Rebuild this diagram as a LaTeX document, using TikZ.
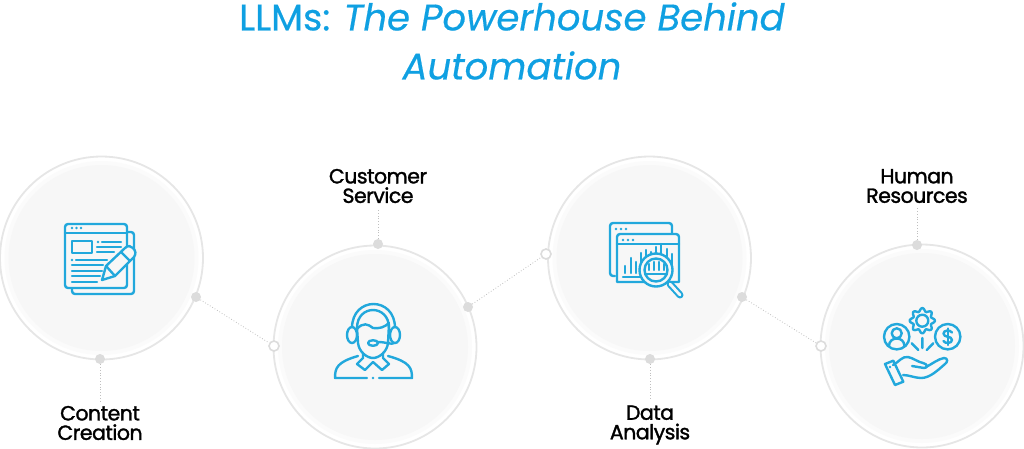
\documentclass[tikz,border=0pt]{standalone}
\usepackage{fontspec}
\setmainfont{Poppins}
\newfontfamily\titlefont[FakeBold=0.45]{Poppins}
\newfontfamily\labelfont[FakeBold=1.5,LetterSpace=-2.5]{Poppins}
\definecolor{skyblue}{HTML}{0FA0E2}
\definecolor{iconblue}{HTML}{22A8DC}
\definecolor{ringgray}{HTML}{E6E6E6}
\definecolor{dotgray}{HTML}{DCDCDC}
\definecolor{softgray}{HTML}{F7F7F7}
\definecolor{softedge}{HTML}{FBFBFB}
\tikzset{
	bubble/.style={circle,draw=ringgray,fill=white,line width=1.8pt,minimum size=203pt,inner sep=0pt},
	fulldot/.style={circle,fill=dotgray,minimum size=10pt,inner sep=0pt},
	holedot/.style={circle,draw=dotgray,fill=white,line width=1.6pt,minimum size=10pt,inner sep=0pt},
	link/.style={draw=black!25,line width=.8pt,dotted},
	caption/.style={align=center,inner sep=0pt,text=black,font=\labelfont\fontsize{20.5}{19.5}\selectfont},
	icon/.style={draw=iconblue,line width=2.4pt,line cap=round,line join=round}
}
\begin{document}
\begin{tikzpicture}[x=1pt,y=-1pt]
	\useasboundingbox (0,0) rectangle (1024,448);
	% title
	\node[align=center,inner sep=0pt,text=skyblue,font=\titlefont\fontsize{37}{49}\selectfont] (title) at (512,41) {LLMs: \textit{The Powerhouse Behind}\\\textit{Automation}};
	% circles
	\node[bubble] (content) at (101.5,258) {};
	\node[bubble] (service) at (375,347) {};
	\node[bubble] (analysis) at (649.5,258) {};
	\node[bubble] (resources) at (922,346) {};
	\foreach \bub in {content,service,analysis,resources}{
		\fill[softedge] (\bub) circle (97);
		\fill[softgray] (\bub) circle (93);
	}
	% dots on the rings
	\node[fulldot] (contentbottom) at (100,359) {};
	\node[fulldot] (contentright) at (196,297) {};
	\node[holedot] (serviceleft) at (274,346) {};
	\node[fulldot] (servicetop) at (378,244) {};
	\node[fulldot] (serviceright) at (468,307) {};
	\node[holedot] (analysisleft) at (546,254) {};
	\node[fulldot] (analysisbottom) at (650,359) {};
	\node[fulldot] (analysisright) at (742,297) {};
	\node[holedot] (resourcesleft) at (821,346) {};
	\node[fulldot] (resourcestop) at (917,245) {};
	% labels
	\node[caption] (contentlabel) at (100,423) {Content\\Creation};
	\node[caption] (servicelabel) at (378,186) {Customer\\Service};
	\node[caption] (analysislabel) at (650,425) {Data\\Analysis};
	\node[caption] (resourceslabel) at (917,186) {Human\\Resources};
	% links
	\draw[link] (contentright) -- (serviceleft);
	\draw[link] (serviceright) -- (analysisleft);
	\draw[link] (analysisright) -- (resourcesleft);
	\draw[link,shorten >=5pt] (contentbottom) -- (contentlabel);
	\draw[link,shorten >=5pt] (servicetop) -- (servicelabel);
	\draw[link,shorten >=5pt] (analysisbottom) -- (analysislabel);
	\draw[link,shorten >=5pt] (resourcestop) -- (resourceslabel);
	% content icon
	\draw[icon] (127,232) -- (131,232) arc (-90:0:3) -- (134,291) arc (0:90:3) -- (75,294) arc (90:180:3) -- (72,288);
	\draw[icon,fill=softgray,rounded corners=3pt] (65,224) rectangle (127,288);
	\draw[icon] (65,233) -- (127,233) (72,241) rectangle (92,253);
	\draw[icon] (102,242) -- (121,242) (97,247) -- (121,247) (97,252) -- (114,252);
	\draw[icon] (76,260) -- (107,260) (72,265) -- (103,265) (72,271) -- (102,271) (72,276) -- (100,276) (72,282) -- (97,282);
	\foreach \px/\py in {72/228,76.5/228,81/228,98/242,72/260}
		\fill[iconblue] (\px,\py) circle (1.4pt);
	\draw[icon,fill=softgray] (102,280) -- (106,266) -- (125,248) .. controls (128,245) and (131,246) .. (133,248) .. controls (136,251) and (136,254) .. (134,257) -- (115,276) -- cycle;
	\draw[icon] (106,266) -- (115,276) (121,252) -- (130,261);
	% service icon
	\draw[icon] (352,328) .. controls (352,296) and (395,296) .. (395,328);
	\draw[icon] (357,328) .. controls (357,304) and (389,304) .. (389,328);
	\draw[icon,fill=softgray] (352,335) ellipse (5 and 8) (395,335) ellipse (5 and 8);
	\draw[icon] (357,328) -- (358,343) .. controls (359,352) and (367,358) .. (373,358) .. controls (379,358) and (387,352) .. (388,343) -- (389,324);
	\draw[icon] (357,329) .. controls (363,322) and (368,324) .. (373,328) .. controls (379,329) and (385,327) .. (389,323);
	\draw[icon] (394,343) .. controls (392,345) and (386,342) .. (378,342);
	\draw[icon] (373,343) ellipse (5 and 2.8);
	\draw[icon] (363,353) -- (363,358) -- (357,364) -- (365,370) -- (373,362) -- (382,370) -- (389,364) -- (383,358) -- (383,353);
	\draw[icon] (367,378) -- (335,378) .. controls (335,368) and (337,362) .. (358,356);
	\draw[icon] (379,378) -- (412,378) .. controls (412,368) and (410,362) .. (388,356);
	\fill[iconblue] (373,378) circle (1.4pt);
	% analysis icon
	\draw[icon] (615,276) -- (613,276) arc (90:180:3) -- (610,226) arc (180:270:3) -- (669,223) arc (-90:0:3) -- (672,233);
	\draw[icon,fill=softgray] (617,282) -- (617,237) arc (180:270:3) -- (676,234) arc (-90:0:3) -- (679,282) -- cycle;
	\draw[icon] (617,244) -- (679,244);
	\foreach \px/\py in {625/266,630.7/258,635.7/262,640.7/253,646/250,651/252,656/247,661/244,666.7/249,671.7/254}
		\draw[icon] (\px,\py) -- (\px,273);
	\draw[icon] (623,277) -- (640,277);
	\foreach \px/\py in {616/229,621/229,626/229,623/240,628/240,633/240}
		\fill[iconblue] (\px,\py) circle (1.4pt);
	\draw[icon,fill=softgray] (656,270) circle (16.5);
	\draw[icon] (656,270) circle (11.5);
	\draw[icon] (649,264) -- (649,270) (654,262) -- (654,270) (659,262) -- (659,270) (664,264) -- (664,270) (646,274) -- (667,274);
	\draw[icon,line width=7pt] (670,284) -- (680,295);
	\draw[softgray,line width=2.8pt,line cap=round] (670,284) -- (680,295);
	% resources icon
	\begin{scope}[shift={(922.3,320.7)}]
		\draw[icon] plot[samples=97,domain=0:360] ({(11+1.6*cos(8*\x))*cos(\x)},{(11+1.6*cos(8*\x))*sin(\x)});
		\draw[icon] (0,0) circle (6);
	\end{scope}
	\draw[icon] (896.7,336.7) circle (12.7) (896.7,333.3) circle (5);
	\draw[icon] (889,346) .. controls (889,336) and (904.4,336) .. (904.4,346);
	\draw[icon] (947.7,336.7) circle (12.7);
	\draw[icon] (952,332.5) .. controls (950,329.5) and (943.5,330) .. (943.5,333.5) .. controls (943.5,338) and (952,335.5) .. (952,340) .. controls (952,343.5) and (945,344) .. (943.5,341);
	\draw[icon] (947.7,328.5) -- (947.7,345);
	\draw[icon] (922.3,338) -- (922.3,348) (911.7,343.3) -- (918.3,350) (933.3,343.3) -- (926.7,350);
	\draw[icon] (885,364) -- (893.3,360.7) -- (903.3,381.7) -- (895,385) -- cycle;
	\draw[icon] (893,365) .. controls (899,362) and (902,356) .. (908,357) .. controls (913,358) and (918,362) .. (923,363) .. controls (928,364) and (928,368) .. (924,368) -- (912,366);
	\draw[icon] (926,367) .. controls (932,364) and (938,359) .. (944,358) .. controls (948,358) and (948,362) .. (945,364) .. controls (938,370) and (930,378) .. (921,378) .. controls (915,378) and (909,375) .. (903,375);
	\fill[iconblue] (890,367) circle (1.4pt);
\end{tikzpicture}
\end{document}
